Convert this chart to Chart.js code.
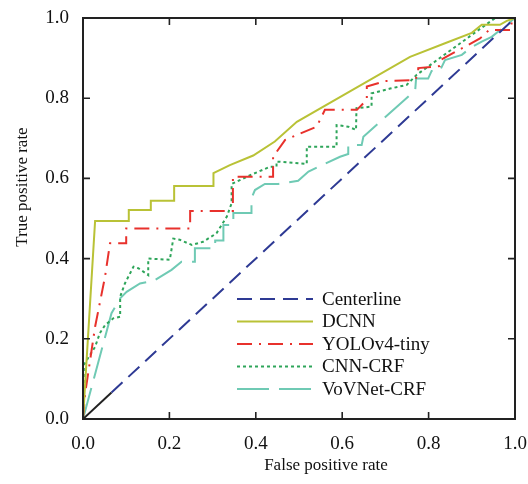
<!DOCTYPE html>
<html>
<head>
<meta charset="utf-8">
<script src="https://cdn.jsdelivr.net/npm/chart.js@4/dist/chart.umd.min.js"></script>
<style>
html, body { margin: 0; padding: 0; background: #fff; }
</style>
</head>
<body>
<canvas id="rocChart" width="528" height="484"></canvas>
<script>
const tickValues = [0, 0.2, 0.4, 0.6, 0.8, 1.0];

const centerX = [0, 0.066, 1];
const centerY = [0, 0.066, 1];

const dcnnX = [0, 0.028, 0.106, 0.106, 0.157, 0.157, 0.211, 0.211, 0.302, 0.302, 0.34, 0.394, 0.444, 0.495, 0.757, 0.838, 0.9, 0.923, 0.965, 0.981, 1];
const dcnnY = [0, 0.494, 0.494, 0.521, 0.521, 0.544, 0.544, 0.581, 0.581, 0.613, 0.633, 0.657, 0.692, 0.741, 0.903, 0.937, 0.963, 0.983, 0.983, 0.993, 1];

const yoloX = [0, 0.005, 0.028, 0.051, 0.0625, 0.1, 0.1, 0.248, 0.248, 0.347, 0.347, 0.44, 0.44, 0.468, 0.541, 0.56, 0.634, 0.657, 0.657, 0.7, 0.768, 0.776, 0.776, 0.826, 0.83, 0.919, 0.94, 0.965, 0.992, 0.992, 1];
const yoloY = [0, 0.064, 0.23, 0.355, 0.438, 0.438, 0.475, 0.475, 0.519, 0.519, 0.604, 0.604, 0.654, 0.696, 0.729, 0.771, 0.771, 0.796, 0.829, 0.843, 0.845, 0.86, 0.875, 0.88, 0.897, 0.949, 0.97, 0.97, 0.97, 1, 1];

const cnnX = [0, 0.002, 0.028, 0.039, 0.051, 0.07, 0.086, 0.086, 0.097, 0.117, 0.128, 0.151, 0.151, 0.201, 0.209, 0.224, 0.252, 0.278, 0.309, 0.333, 0.344, 0.344, 0.387, 0.433, 0.448, 0.448, 0.518, 0.518, 0.587, 0.587, 0.614, 0.632, 0.633, 0.668, 0.668, 0.711, 0.749, 0.772, 0.954, 1];
const cnnY = [0, 0.135, 0.18, 0.214, 0.234, 0.251, 0.255, 0.305, 0.338, 0.38, 0.376, 0.359, 0.4, 0.397, 0.45, 0.447, 0.434, 0.442, 0.463, 0.505, 0.538, 0.586, 0.608, 0.629, 0.629, 0.642, 0.636, 0.679, 0.679, 0.733, 0.729, 0.721, 0.775, 0.779, 0.812, 0.824, 0.833, 0.858, 1, 1];

const vovX = [0, 0.066, 0.086, 0.101, 0.132, 0.163, 0.205, 0.228, 0.259, 0.259, 0.306, 0.306, 0.325, 0.325, 0.348, 0.348, 0.37, 0.39, 0.39, 0.398, 0.421, 0.452, 0.498, 0.522, 0.595, 0.614, 0.614, 0.645, 0.649, 0.757, 0.769, 0.771, 0.799, 0.807, 0.826, 0.838, 0.877, 0.896, 0.923, 0.946, 1];
const vovY = [0, 0.264, 0.301, 0.317, 0.338, 0.344, 0.372, 0.392, 0.392, 0.426, 0.426, 0.445, 0.445, 0.484, 0.484, 0.514, 0.514, 0.514, 0.55, 0.571, 0.586, 0.586, 0.594, 0.617, 0.654, 0.661, 0.683, 0.683, 0.704, 0.808, 0.82, 0.849, 0.849, 0.868, 0.868, 0.895, 0.908, 0.925, 0.941, 0.953, 1];

const serif = '"Liberation Serif", "Times New Roman", serif';
const blue = '#2e3a94';

function pts(xs, ys) {
    return xs.map((x, i) => ({ x: x, y: ys[i] }));
}

// frame on all four sides with inward ticks
const frameTicks = {
    id: 'frameTicks',
    afterDatasetsDraw(chart) {
        const { ctx, chartArea: a, scales } = chart;
        ctx.save();
        ctx.strokeStyle = '#222';
        ctx.lineWidth = 2;
        ctx.strokeRect(a.left, a.top, a.right - a.left, a.bottom - a.top);
        ctx.lineWidth = 1.6;
        ctx.beginPath();
        tickValues.forEach(v => {
            const px = scales.x.getPixelForValue(v);
            const py = scales.y.getPixelForValue(v);
            ctx.moveTo(px, a.bottom); ctx.lineTo(px, a.bottom - 7);
            ctx.moveTo(px, a.top); ctx.lineTo(px, a.top + 7);
            ctx.moveTo(a.left, py); ctx.lineTo(a.left + 7, py);
            ctx.moveTo(a.right, py); ctx.lineTo(a.right - 7, py);
        });
        ctx.stroke();
        ctx.restore();
    }
};

// legend inside the plot, with long line samples
const innerLegend = {
    id: 'innerLegend',
    afterDraw(chart) {
        const { ctx, chartArea: a } = chart;
        const x0 = a.left + 154, x1 = a.left + 230, tx = a.left + 239;
        let y = a.top + 281;
        ctx.save();
        ctx.font = '19px ' + serif;
        ctx.textBaseline = 'middle';
        chart.data.datasets.forEach(ds => {
            ctx.strokeStyle = ds.legendColor || ds.borderColor;
            ctx.lineWidth = 2;
            ctx.setLineDash(ds.borderDash || []);
            ctx.beginPath();
            ctx.moveTo(x0, y);
            ctx.lineTo(x1, y);
            ctx.stroke();
            ctx.setLineDash([]);
            ctx.fillStyle = '#111';
            ctx.fillText(ds.label, tx, y + 1);
            y += 22.5;
        });
        ctx.restore();
    }
};

// axis titles
const axisTitles = {
    id: 'axisTitles',
    afterDraw(chart) {
        const { ctx } = chart;
        ctx.save();
        ctx.font = '17px ' + serif;
        ctx.fillStyle = '#111';
        ctx.textAlign = 'center';
        ctx.textBaseline = 'middle';
        ctx.fillText('False positive rate', 326, 466);
        ctx.translate(23, 187);
        ctx.rotate(-Math.PI / 2);
        ctx.fillText('True positive rate', 0, 0);
        ctx.restore();
    }
};

const ctx = document.getElementById('rocChart').getContext('2d');

new Chart(ctx, {
    type: 'line',
    data: {
        datasets: [{
            label: 'Centerline',
            data: pts(centerX, centerY),
            borderColor: blue,
            legendColor: blue,
            borderDash: [15, 8],
            segment: {
                borderColor: c => c.p0DataIndex === 0 ? '#222' : blue,
                borderDash: c => c.p0DataIndex === 0 ? [] : [15, 8]
            }
        }, {
            label: 'DCNN',
            data: pts(dcnnX, dcnnY),
            borderColor: '#b9c236'
        }, {
            label: 'YOLOv4-tiny',
            data: pts(yoloX, yoloY),
            borderColor: '#e8312c',
            borderDash: [15, 7, 2, 7]
        }, {
            label: 'CNN-CRF',
            data: pts(cnnX, cnnY),
            borderColor: '#2ea55a',
            borderDash: [3, 3]
        }, {
            label: 'VoVNet-CRF',
            data: pts(vovX, vovY),
            borderColor: '#6fcab4',
            borderDash: [32, 10]
        }]
    },
    options: {
        responsive: false,
        animation: false,
        elements: {
            line: { borderWidth: 2, tension: 0, fill: false },
            point: { radius: 0, hoverRadius: 0 }
        },
        layout: { padding: { left: 0, right: 13, top: 18, bottom: 0 } },
        plugins: {
            legend: { display: false },
            tooltip: { enabled: false }
        },
        scales: {
            x: {
                type: 'linear',
                min: 0,
                max: 1,
                afterBuildTicks: s => { s.ticks = tickValues.map(v => ({ value: v })); },
                afterFit: s => { s.height = 65; s.paddingLeft = 0; s.paddingRight = 0; },
                grid: { display: false, drawTicks: false },
                border: { display: false },
                ticks: {
                    padding: 14,
                    color: '#111',
                    font: { family: serif, size: 19 },
                    maxRotation: 0,
                    callback: v => v.toFixed(1)
                }
            },
            y: {
                type: 'linear',
                min: 0,
                max: 1,
                afterBuildTicks: s => { s.ticks = tickValues.map(v => ({ value: v })); },
                afterFit: s => { s.width = 83; s.paddingTop = 0; s.paddingBottom = 0; },
                grid: { display: false, drawTicks: false },
                border: { display: false },
                ticks: {
                    padding: 14,
                    color: '#111',
                    font: { family: serif, size: 19 },
                    callback: v => v.toFixed(1)
                }
            }
        }
    },
    plugins: [frameTicks, innerLegend, axisTitles]
});
</script>
</body>
</html>
